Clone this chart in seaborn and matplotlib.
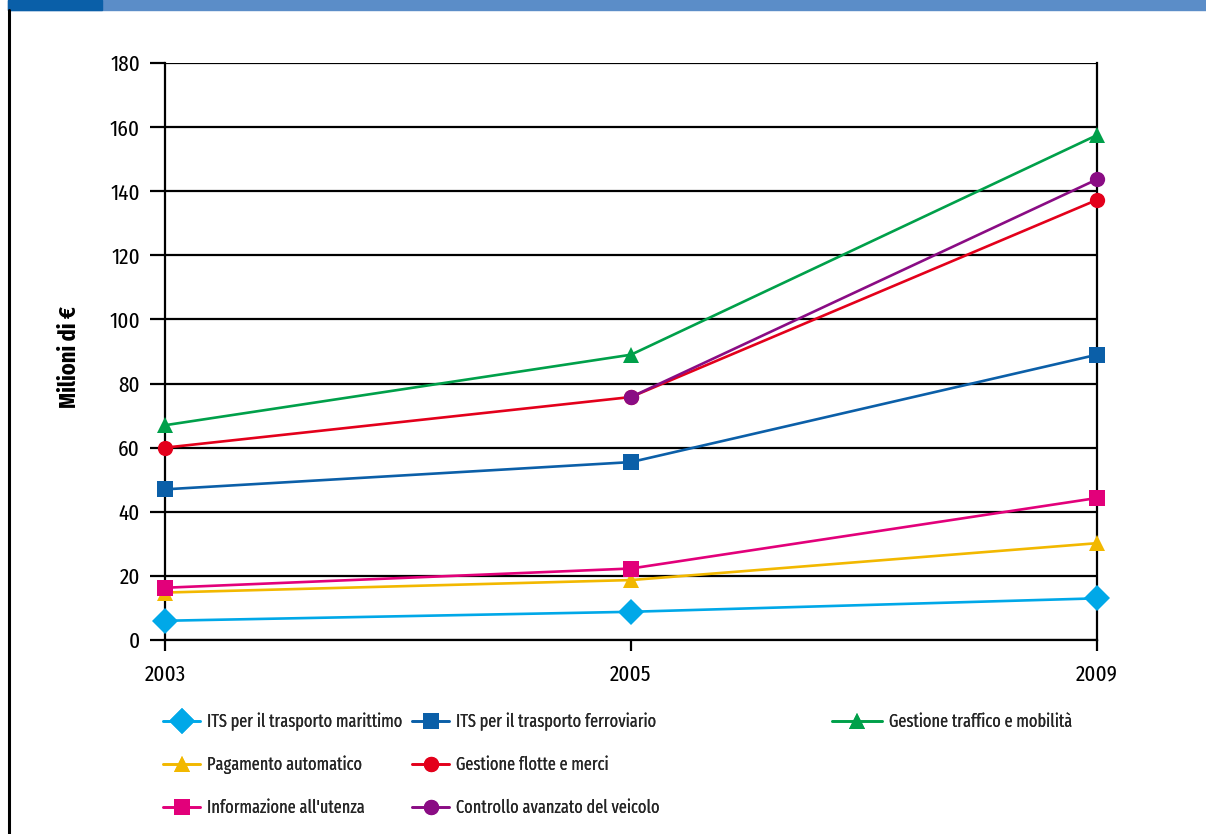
import numpy as np
import pandas as pd
import matplotlib
matplotlib.use("Agg")
import matplotlib.pyplot as plt
import seaborn as sns
from matplotlib.lines import Line2D
from matplotlib.patches import Rectangle

years = ["2003", "2005", "2009"]
marittimo = [6.0, 8.8, 13.0]
ferroviario = [47.0, 55.5, 89.0]
traffico = [67.0, 89.0, 157.5]
pagamento = [14.8, 18.7, 30.2]
flotte = [60.0, 75.8, 137.3]
informazione = [16.3, 22.3, 44.3]
controllo = [np.nan, 75.8, 143.7]

series_names = [
    "ITS per il trasporto marittimo",
    "ITS per il trasporto ferroviario",
    "Gestione traffico e mobilità",
    "Pagamento automatico",
    "Gestione flotte e merci",
    "Informazione all'utenza",
    "Controllo avanzato del veicolo",
]
series_values = [marittimo, ferroviario, traffico, pagamento, flotte, informazione, controllo]
colors = ["#00A8E8", "#0B5FA8", "#00A04A", "#F2B800", "#E3001B", "#E2007A", "#8A0C84"]
markers = ["D", "s", "^", "^", "o", "s", "o"]
msizes = [13, 11, 11, 11, 11, 11, 11]

sns.set_theme(style="white")
plt.rcParams["font.family"] = ["Fira Sans Extra Condensed", "Barlow Condensed",
                               "Roboto Condensed", "Archivo Narrow", "DejaVu Sans"]

W, H = 1206, 834
fig = plt.figure(figsize=(W / 100, H / 100), dpi=100)
ax = fig.add_axes([165 / W, 1 - 640 / H, (1097 - 165) / W, (640 - 63) / H])

rows = []
for name, vals in zip(series_names, series_values):
    for i, v in enumerate(vals):
        rows.append({"pos": i, "serie": name, "val": v})
df = pd.DataFrame(rows)

for name, col, mk, ms in zip(series_names, colors, markers, msizes):
    sub = df[df["serie"] == name].dropna()
    sns.lineplot(data=sub, x="pos", y="val", ax=ax, color=col, lw=1.9,
                 marker=mk, markersize=ms, markeredgewidth=0, legend=False,
                 zorder=3, clip_on=False)

ax.set_xlim(0, 2)
ax.set_ylim(0, 180)
ax.set_xticks(range(len(years)))
ax.set_xticklabels(years)
ax.set_yticks(np.arange(0, 181, 20))
ax.yaxis.grid(True, color="black", lw=1.6)
ax.set_axisbelow(True)
for s in ["left", "right", "bottom"]:
    ax.spines[s].set_visible(True)
    ax.spines[s].set_color("black")
    ax.spines[s].set_linewidth(1.6)
ax.spines["top"].set_visible(False)
ax.tick_params(axis="y", labelsize=16.5, colors="black", length=11, width=1.6,
               direction="out", pad=7, left=True)
ax.tick_params(axis="x", labelsize=16.5, colors="black", length=8, width=1.6,
               direction="out", pad=9, bottom=True)
ax.set_xlabel("")
ax.set_ylabel("Milioni di €", fontsize=17.5, fontweight="bold", color="black")
ax.yaxis.set_label_coords((81 - 165) / (1097 - 165), 0.49)

# header bar and left border
fig.patches.append(Rectangle((8 / W, 1 - 10 / H), 1 - 8 / W, 10 / H,
                             transform=fig.transFigure, color="#5B8DC8", zorder=0))
fig.patches.append(Rectangle((8 / W, 1 - 10 / H), 94 / W, 10 / H,
                             transform=fig.transFigure, color="#0A5FA8", zorder=1))
fig.add_artist(Line2D([9 / W, 9 / W], [0, 1 - 10 / H], transform=fig.transFigure,
                      color="black", lw=2.2))

# legends (three columns)
fs_leg = 12.8
handles = [Line2D([], [], color=c, lw=1.9, marker=m, markersize=s, markeredgewidth=0)
           for c, m, s in zip(colors, markers, msizes)]
groups = [[0, 3, 5], [1, 4, 6], [2]]
xpos = [163, 412, 832]
ycen = [765, 765, 722]
hlen = [2.1, 2.1, 2.8]
for g, xp, yc, hl in zip(groups, xpos, ycen, hlen):
    leg = fig.legend([handles[i] for i in g], [series_names[i] for i in g],
                     loc="center left", bbox_to_anchor=(xp / W, 1 - yc / H),
                     frameon=False, fontsize=fs_leg, handlelength=hl, handletextpad=0.4,
                     labelspacing=1.4, borderaxespad=0, borderpad=0)
    fig.add_artist(leg)

fig.savefig("out.png", dpi=100)
